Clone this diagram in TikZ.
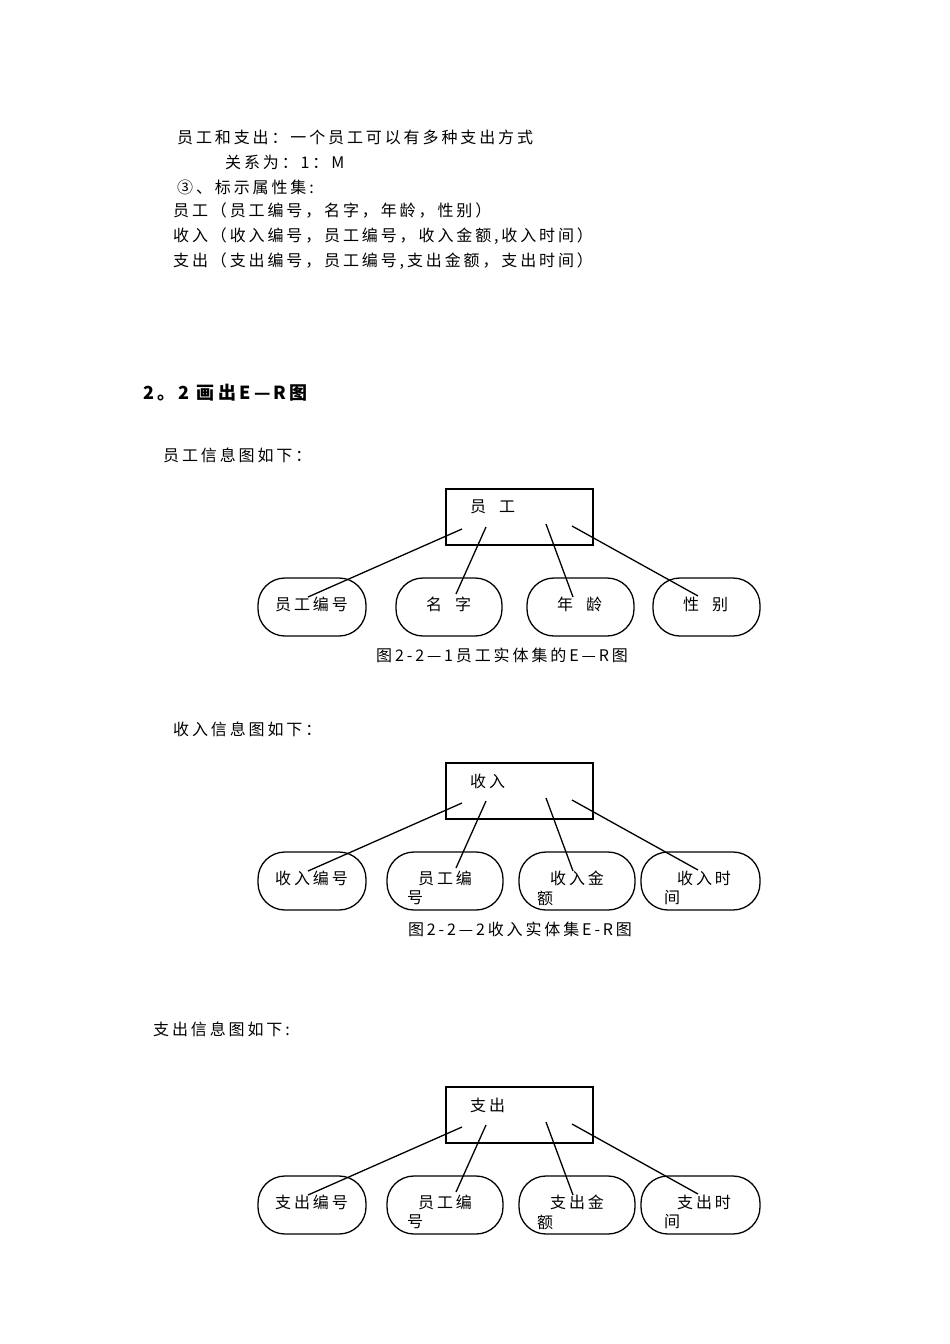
\documentclass[tikz,border=0pt]{standalone}
\usepackage{fontspec}
\setmainfont{Noto Sans CJK SC}[LetterSpace=18]
\begin{document}
\begin{tikzpicture}[x=1pt,y=-1pt,
  font=\fontsize{16}{18}\selectfont,
  txt/.style={anchor=west,inner sep=0pt},
  ent/.style={draw,line width=1.4pt,minimum width=147pt,minimum height=56pt,inner sep=0pt},
  attr/.style={draw,line width=1.3pt,rounded corners=27pt,minimum height=58pt,inner sep=0pt},
  lnk/.style={line width=1.3pt}]
\useasboundingbox (0,0) rectangle (950,1344);
\node[txt] (t1) at (177,137) {员工和支出：一个员工可以有多种支出方式};
\node[txt] (t2) at (225,162) {关系为：1：M};
\node[txt] (t3) at (177,187) {③、标示属性集:};
\node[txt] (t4) at (173,211) {员工（员工编号，名字，年龄，性别）};
\node[txt] (t5) at (173,236) {收入（收入编号，员工编号，收入金额,收入时间）};
\node[txt] (t6) at (173,261) {支出（支出编号，员工编号,支出金额，支出时间）};
\node[txt,font=\fontsize{18}{21}\selectfont\bfseries] (h) at (143,393) {2。2 画出E—R图};
\node[txt] (s1) at (163,455) {员工信息图如下：};
\node[txt] (s2) at (173,729) {收入信息图如下：};
\node[txt] (s3) at (153,1029) {支出信息图如下:};
% diagram 1
\node[ent] (e1) at (519.5,517) {};
\node[txt] (e1t) at (470,507) {员\ \ 工};
\node[attr,minimum width=108pt] (a11) at (312,607) {};
\node[attr,minimum width=106pt] (a12) at (449,607) {};
\node[attr,minimum width=107pt] (a13) at (580.5,607) {};
\node[attr,minimum width=107pt] (a14) at (706.5,607) {};
\node[txt] (b11) at (275,604) {员工编号};
\node[txt] (b12) at (426,604) {名\ \ 字};
\node[txt] (b13) at (557,604) {年\ \ 龄};
\node[txt] (b14) at (683,604) {性\ \ 别};
\draw[lnk] (462,529) -- (308,597);
\draw[lnk] (486,527) -- (456,594);
\draw[lnk] (546,524) -- (573,597);
\draw[lnk] (572,526) -- (698,596);
\node[txt,anchor=center] (c1) at (502,655) {图2-2—1员工实体集的E—R图};
% diagram 2 and 3
\foreach \dy/\n/\a/\b/\c/\d in {274/收入/收入编号/员工编/收入金/收入时, 598/支出/支出编号/员工编/支出金/支出时}{
  \begin{scope}[yshift=-\dy pt]
  \node[ent] (e) at (519.5,517) {};
  \node[txt] (et) at (470,507) {\n};
  \node[attr,minimum width=108pt] (p1) at (312,607) {};
  \node[attr,minimum width=116pt] (p2) at (445,607) {};
  \node[attr,minimum width=116pt] (p3) at (577,607) {};
  \node[attr,minimum width=119pt] (p4) at (700.5,607) {};
  \node[txt] (q1) at (275,604) {\a};
  \node[txt] (q2) at (418,604) {\b};
  \node[txt] (r2) at (407,624) {号};
  \node[txt] (q3) at (550,604) {\c};
  \node[txt] (r3) at (537,624) {额};
  \node[txt] (q4) at (677,604) {\d};
  \node[txt] (r4) at (664,624) {间};
  \draw[lnk] (462,529) -- (308,597);
  \draw[lnk] (486,527) -- (456,594);
  \draw[lnk] (546,524) -- (573,597);
  \draw[lnk] (572,526) -- (698,596);
  \end{scope}}
\node[txt,anchor=center] (c2) at (520,929) {图2-2—2收入实体集E-R图};
\end{tikzpicture}
\end{document}
